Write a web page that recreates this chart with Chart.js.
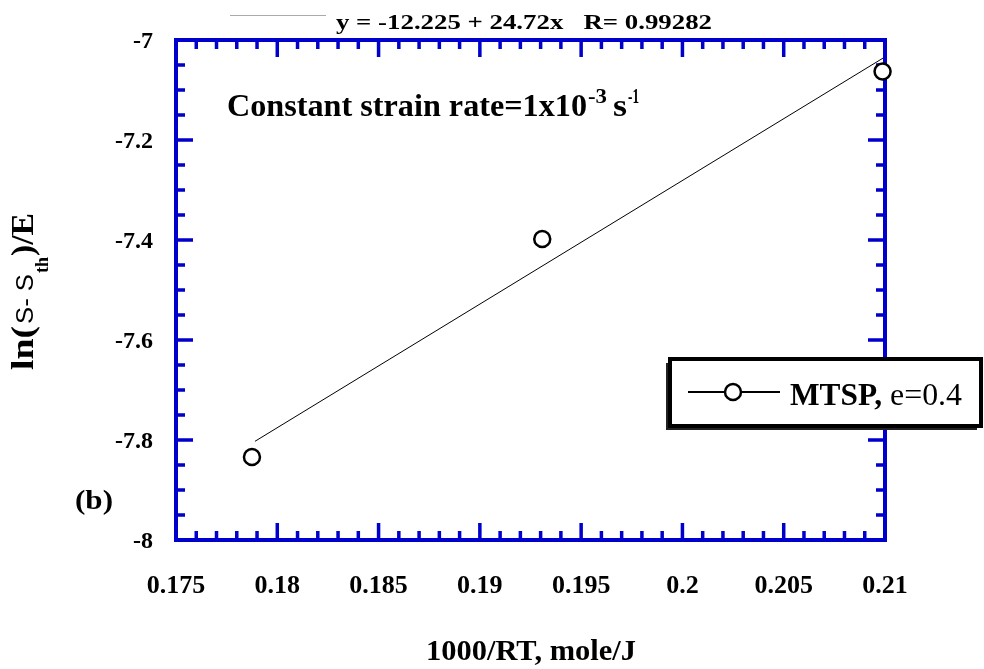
<!DOCTYPE html>
<html>
<head>
<meta charset="utf-8">
<script src="https://cdn.jsdelivr.net/npm/chart.js@4/dist/chart.umd.min.js"></script>
<style>
  html, body { margin: 0; padding: 0; background: #fff; }
  #wrap { width: 984px; height: 669px; }
</style>
</head>
<body>
<div id="wrap"><canvas id="c" width="984" height="669"></canvas></div>
<script>
// Measured points: 1000/RT versus ln((sigma - sigma_th)/E)
const xValues = [0.17875, 0.19308, 0.20988];
const yValues = [-7.834, -7.398, -7.063];

// Linear fit stated in the header
const fitIntercept = -12.225;
const fitSlope = 24.72;
const fitR = 0.99282;
const fitXRange = [0.1789, 0.2099];

// Axis ticks
const xTickValues = [0.175, 0.18, 0.185, 0.19, 0.195, 0.2, 0.205, 0.21];
const xTickLabels = ['0.175', '0.18', '0.185', '0.19', '0.195', '0.2', '0.205', '0.21'];
const yTickValues = [-8, -7.8, -7.6, -7.4, -7.2, -7];
const yTickLabels = ['-8', '-7.8', '-7.6', '-7.4', '-7.2', '-7'];
const xMinorStep = 0.001;
const yMinorStep = 0.05;

const seriesName = 'MTSP,';
const seriesNameTail = 'e=0.4';
const fitLabel = 'y = -12.225 + 24.72x   R= 0.99282';

const AXIS_BLUE = '#0000cc';
const SERIF = '"Liberation Serif", "Times New Roman", serif';
const SANS = '"Liberation Sans", Arial, sans-serif';

// draw text, optionally squeezed/stretched horizontally to a given width
function putText(ctx, text, x, y, font, opts) {
  opts = opts || {};
  ctx.save();
  ctx.font = font;
  ctx.fillStyle = opts.color || '#000';
  ctx.textBaseline = opts.baseline || 'alphabetic';
  const w = ctx.measureText(text).width;
  const sx = opts.width ? opts.width / w : (opts.sx || 1);
  const drawn = w * sx;
  let left = x;
  if (opts.align === 'center') left = x - drawn / 2;
  else if (opts.align === 'right') left = x - drawn;
  ctx.translate(left, y);
  ctx.scale(sx, 1);
  ctx.textAlign = 'left';
  ctx.fillText(text, 0, 0);
  ctx.restore();
  return drawn;
}

function drawMarker(ctx, x, y, r) {
  ctx.save();
  ctx.beginPath();
  ctx.arc(x, y, r, 0, Math.PI * 2);
  ctx.fillStyle = '#fff';
  ctx.fill();
  ctx.lineWidth = 2.5;
  ctx.strokeStyle = '#000';
  ctx.stroke();
  ctx.restore();
}

// Frame with inward ticks on all four sides
const framePlugin = {
  id: 'frame',
  beforeDatasetsDraw(chart) {
    const ctx = chart.ctx;
    const xs = chart.scales.x, ys = chart.scales.y;
    const L = xs.getPixelForValue(xs.min), R = xs.getPixelForValue(xs.max);
    const T = ys.getPixelForValue(ys.max), B = ys.getPixelForValue(ys.min);
    ctx.save();
    ctx.strokeStyle = AXIS_BLUE;
    ctx.lineWidth = 3.5;
    const majorLen = 17, minorLen = 9;
    const isMajor = (v, list) => list.some(t => Math.abs(t - v) < 1e-9);
    // x ticks
    for (let i = 0; ; i++) {
      const v = +(xs.min + i * xMinorStep).toFixed(6);
      if (v > xs.max + 1e-9) break;
      const px = xs.getPixelForValue(v);
      const len = isMajor(v, xTickValues) ? majorLen : minorLen;
      ctx.beginPath();
      ctx.moveTo(px, B); ctx.lineTo(px, B - len);
      ctx.moveTo(px, T); ctx.lineTo(px, T + len);
      ctx.stroke();
    }
    // y ticks
    for (let i = 0; ; i++) {
      const v = +(ys.min + i * yMinorStep).toFixed(6);
      if (v > ys.max + 1e-9) break;
      const py = ys.getPixelForValue(v);
      const len = isMajor(v, yTickValues) ? majorLen : minorLen;
      ctx.beginPath();
      ctx.moveTo(L, py); ctx.lineTo(L + len, py);
      ctx.moveTo(R, py); ctx.lineTo(R - len, py);
      ctx.stroke();
    }
    ctx.lineWidth = 4;
    ctx.strokeRect(L, T, R - L, B - T);
    ctx.restore();

    // tick labels
    xTickValues.forEach((v, i) => {
      putText(ctx, xTickLabels[i], xs.getPixelForValue(v), 593, 'bold 26px ' + SERIF, { align: 'center' });
    });
    yTickValues.forEach((v, i) => {
      putText(ctx, yTickLabels[i], 153, ys.getPixelForValue(v) + 2, 'bold 24px ' + SERIF, { align: 'right', baseline: 'middle' });
    });
  }
};

// Titles, annotations and the boxed legend
const textPlugin = {
  id: 'texts',
  afterDraw(chart) {
    const ctx = chart.ctx;

    // fit legend at the top
    ctx.save();
    ctx.strokeStyle = '#aaa';
    ctx.lineWidth = 1;
    ctx.beginPath(); ctx.moveTo(230, 15.5); ctx.lineTo(326, 15.5); ctx.stroke();
    ctx.restore();
    putText(ctx, fitLabel, 336, 29, 'bold 22px ' + SERIF, { width: 376 });

    // test condition
    putText(ctx, 'Constant strain rate=1x10', 227, 116, 'bold 31px ' + SERIF, { width: 360 });
    putText(ctx, '-3', 588, 103, 'bold 20px ' + SERIF, { width: 19 });
    putText(ctx, 's', 613, 116, 'bold 31px ' + SERIF, { width: 14 });
    putText(ctx, '-1', 628, 103, 'bold 20px ' + SERIF, { width: 11 });

    // panel tag
    putText(ctx, '(b)', 75, 509, 'bold 28px ' + SERIF, { width: 38 });

    // x axis title
    putText(ctx, '1000/RT, mole/J', 531, 660, 'bold 30px ' + SERIF, { align: 'center', width: 210 });

    // y axis title, rotated
    ctx.save();
    ctx.translate(33, 370);
    ctx.rotate(-Math.PI / 2);
    putText(ctx, 'ln(', 0, 0, 'bold 31px ' + SERIF, { width: 44 });
    putText(ctx, 'S- S', 46, 0, '23px ' + SANS, { width: 50 });
    putText(ctx, 'th', 97, 15, 'bold 19px ' + SERIF, { width: 16 });
    putText(ctx, ')/E', 114, 0, 'bold 31px ' + SERIF, { width: 43 });
    ctx.restore();

    // boxed legend with drop shadow
    const bx = 670, by = 359, bw = 311, bh = 67;
    ctx.save();
    ctx.fillStyle = '#222';
    ctx.fillRect(bx - 4, by + 4, bw, bh);
    ctx.fillStyle = '#fff';
    ctx.fillRect(bx, by, bw, bh);
    ctx.strokeStyle = '#000';
    ctx.lineWidth = 4;
    ctx.strokeRect(bx, by, bw, bh);
    ctx.lineWidth = 2;
    ctx.beginPath(); ctx.moveTo(688, 392); ctx.lineTo(780, 392); ctx.stroke();
    ctx.restore();
    drawMarker(ctx, 733, 392, 8);
    putText(ctx, seriesName, 790, 405, 'bold 31px ' + SERIF, { width: 92 });
    putText(ctx, seriesNameTail, 890, 405, '31px ' + SERIF, { width: 72 });
  }
};

const fitPoints = fitXRange.map(x => ({ x: x, y: fitIntercept + fitSlope * x }));
const dataPoints = xValues.map((x, i) => ({ x: x, y: yValues[i] }));

new Chart(document.getElementById('c'), {
  type: 'scatter',
  data: {
    datasets: [
      {
        label: 'fit',
        type: 'line',
        data: fitPoints,
        borderColor: '#000',
        borderWidth: 1,
        pointRadius: 0,
        fill: false,
        clip: false
      },
      {
        label: seriesName + ' ' + seriesNameTail,
        data: dataPoints,
        showLine: false,
        pointStyle: 'circle',
        pointRadius: 8,
        pointBorderWidth: 2.5,
        pointBorderColor: '#000',
        pointBackgroundColor: '#fff',
        clip: false
      }
    ]
  },
  options: {
    responsive: false,
    animation: false,
    devicePixelRatio: 1,
    layout: { padding: { left: 176, right: 99, top: 40, bottom: 129 } },
    scales: {
      x: { type: 'linear', min: 0.175, max: 0.21, display: false },
      y: { type: 'linear', min: -8, max: -7, display: false }
    },
    plugins: {
      legend: { display: false },
      tooltip: { enabled: false }
    }
  },
  plugins: [framePlugin, textPlugin]
});
</script>
</body>
</html>
